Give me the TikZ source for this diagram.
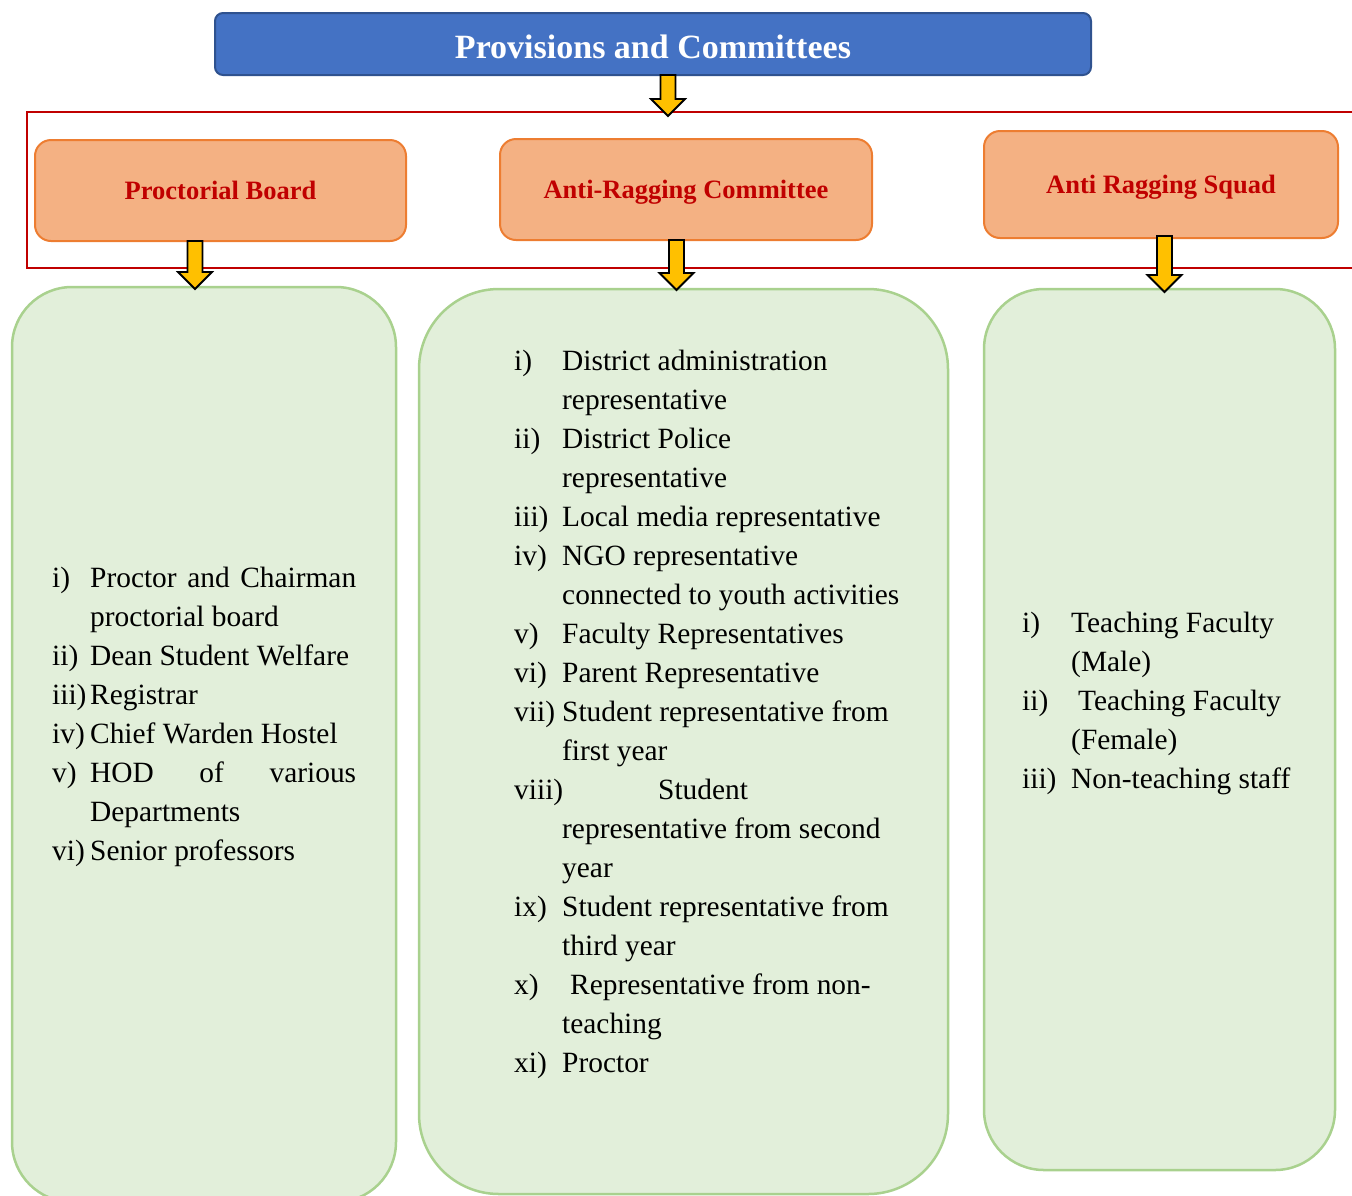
\documentclass[tikz,border=0pt]{standalone}
\usepackage{fontspec}
\setmainfont{Liberation Serif}
\usepackage{xcolor}
\definecolor{pcTitle}{HTML}{4472C4}
\definecolor{pcTitleLine}{HTML}{2F528F}
\definecolor{pcFrame}{HTML}{C00000}
\definecolor{pcHead}{HTML}{F4B183}
\definecolor{pcHeadLine}{HTML}{ED7D31}
\definecolor{pcHeadText}{HTML}{C00000}
\definecolor{pcList}{HTML}{E2EFDA}
\definecolor{pcListLine}{HTML}{A9D18E}
\definecolor{pcArrow}{HTML}{FFC000}
\usetikzlibrary{calc}

% yellow block arrow from #1 down to #2
\newcommand{\yarrow}[2]{%
  \filldraw[fill=pcArrow, draw=black, line width=1.8pt, line join=miter]
    let \p1=(#1), \p2=(#2) in
    (\x1-7.5pt,\y1) -- (\x1+7.5pt,\y1) -- (\x1+7.5pt,\y2+17pt) -- (\x1+17pt,\y2+17pt)
    -- (\x1,\y2) -- (\x1-17pt,\y2+17pt) -- (\x1-7.5pt,\y2+17pt) -- cycle;}

\begin{document}
\begin{tikzpicture}[x=1pt, y=-1pt,
  titlebox/.style={rectangle, rounded corners=8pt, draw=pcTitleLine, line width=2pt,
    fill=pcTitle, text=white, font=\bfseries\fontsize{34}{40}\selectfont,
    text height=32pt, text depth=3.6pt,
    minimum width=876pt, minimum height=62pt, inner sep=0pt},
  headbox/.style={rectangle, rounded corners=16pt, draw=pcHeadLine, line width=2pt,
    fill=pcHead, text=pcHeadText, font=\bfseries\fontsize{26.5}{30}\selectfont,
    text height=24pt, text depth=5.6pt, inner sep=0pt},
  listbox/.style={rectangle, draw=pcListLine, line width=2.5pt, fill=pcList, inner sep=0pt},
  listtext/.style={anchor=north west, inner sep=0pt, font=\fontsize{29.4}{39}\selectfont}]
  \clip (0,0) rectangle (1352,1195);

  \node[titlebox] (title) at (653,44) {Provisions and Committees};
  \draw[pcFrame, line width=2pt] (27,112) rectangle (1362,268);

  \node[headbox, minimum width=371pt, minimum height=101pt] (PB) at (220.5,190.5) {Proctorial Board};
  \node[headbox, minimum width=372pt, minimum height=101pt] (ARC) at (686,189.5) {Anti-Ragging Committee};
  \node[headbox, minimum width=354pt, minimum height=107pt] (ARS) at (1161,184.5) {Anti Ragging Squad};

  \node[listbox, rounded corners=60pt, minimum width=384pt, minimum height=915pt] (PBlist) at (204,744.5) {};
  \node[listbox, rounded corners=80pt, minimum width=529pt, minimum height=905pt] (ARClist) at (683.5,741.5) {};
  \node[listbox, rounded corners=60pt, minimum width=351pt, minimum height=881pt] (ARSlist) at (1159.5,729.5) {};

  \node[listtext] (PBtext) at (52,559.7) {%
    \begin{tabular}{@{}p{38pt}@{}l@{}}
      i)   & \makebox[266pt][s]{Proctor and Chairman}\\
           & proctorial board\\
      ii)  & Dean Student Welfare\\
      iii) & Registrar\\
      iv)  & Chief Warden Hostel\\
      v)   & \makebox[266pt][s]{HOD of various}\\
           & Departments\\
      vi)  & Senior professors
    \end{tabular}};
  \node[listtext] (ARCtext) at (514,343.2) {%
    \begin{tabular}{@{}p{48pt}@{}l@{}}
      i)    & District administration\\
            & representative\\
      ii)   & District Police\\
            & representative\\
      iii)  & Local media representative\\
      iv)   & NGO representative\\
            & connected to youth activities\\
      v)    & Faculty Representatives\\
      vi)   & Parent Representative\\
      vii)  & Student representative from\\
            & first year\\
      viii) & \hspace*{96pt}Student\\
            & representative from second\\
            & year\\
      ix)   & Student representative from\\
            & third year\\
      x)    & \hspace*{8pt}Representative from non-\\
            & teaching\\
      xi)   & Proctor
    \end{tabular}};
  \node[listtext] (ARStext) at (1022,604.7) {%
    \begin{tabular}{@{}p{49pt}@{}l@{}}
      i)   & Teaching Faculty\\
           & (Male)\\
      ii)  & \hspace*{7pt}Teaching Faculty\\
           & (Female)\\
      iii) & Non-teaching staff
    \end{tabular}};

  \coordinate (t1) at (668,75);     \coordinate (b1) at (668,116);
  \coordinate (t2) at (195,241);    \coordinate (b2) at (195,289);
  \coordinate (t3) at (676.5,240);  \coordinate (b3) at (676.5,290);
  \coordinate (t4) at (1164.5,236); \coordinate (b4) at (1164.5,292);
  \yarrow{t1}{b1}
  \yarrow{t2}{b2}
  \yarrow{t3}{b3}
  \yarrow{t4}{b4}
\end{tikzpicture}
\end{document}
